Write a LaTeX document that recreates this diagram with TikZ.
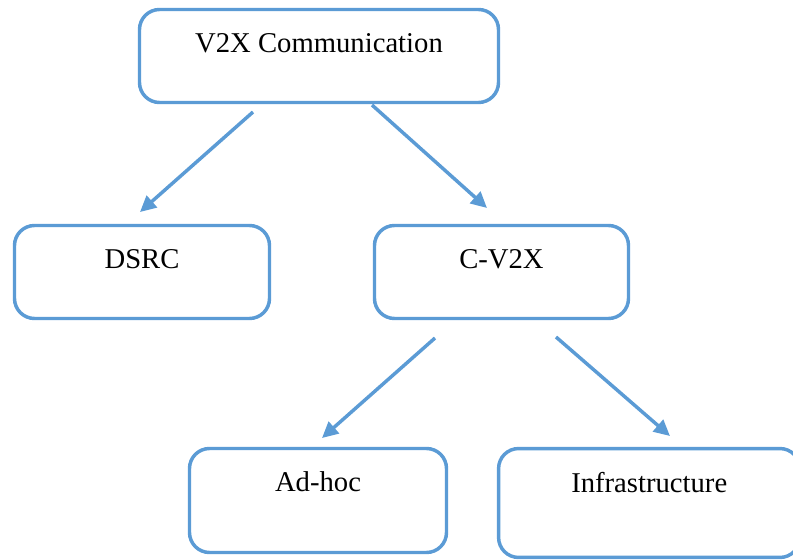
\documentclass[tikz,border=0pt]{standalone}
\usepackage{fontspec}
\setmainfont{Liberation Serif}
\usetikzlibrary{arrows.meta}
\definecolor{boxblue}{HTML}{5B9BD5}
\tikzset{
  bx/.style={draw=boxblue, line width=2.6pt, rounded corners=15pt, inner sep=0pt, outer sep=0pt,
    align=center, text height=32.6pt, font=\fontsize{21.5pt}{25pt}\selectfont},
  arr/.style={draw=boxblue, line width=2.6pt, -{Triangle[length=12pt,width=11.5pt]}}
}
\begin{document}
\begin{tikzpicture}[x=0.75pt,y=-0.75pt]
\useasboundingbox (0,0) rectangle (793,560);
\begin{scope}
\clip (0,0) rectangle (793,560);
\node[bx, minimum width=269.25pt, text depth=37.15pt] (v2x) at (319,56) {V2X Communication};
\node[bx, minimum width=191.25pt, text depth=37.15pt] (dsrc) at (142,272) {DSRC};
\node[bx, minimum width=190.5pt, text depth=37.15pt] (cv2x) at (501.5,272) {C-V2X};
\node[bx, minimum width=192.75pt, text depth=45.4pt] (adhoc) at (318,500.5) {Ad-hoc};
\node[bx, minimum width=226pt, text depth=49.1pt] (infra) at (649.25,503) {Infrastructure};
\end{scope}
\coordinate (s1) at (253,112);
\coordinate (e1) at (140,212);
\coordinate (s2) at (372,105);
\coordinate (e2) at (487,208);
\coordinate (s3) at (435,338);
\coordinate (e3) at (322,438);
\coordinate (s4) at (556,337);
\coordinate (e4) at (670,436);
\draw[arr] (s1) -- (e1);
\draw[arr] (s2) -- (e2);
\draw[arr] (s3) -- (e3);
\draw[arr] (s4) -- (e4);
\end{tikzpicture}
\end{document}
